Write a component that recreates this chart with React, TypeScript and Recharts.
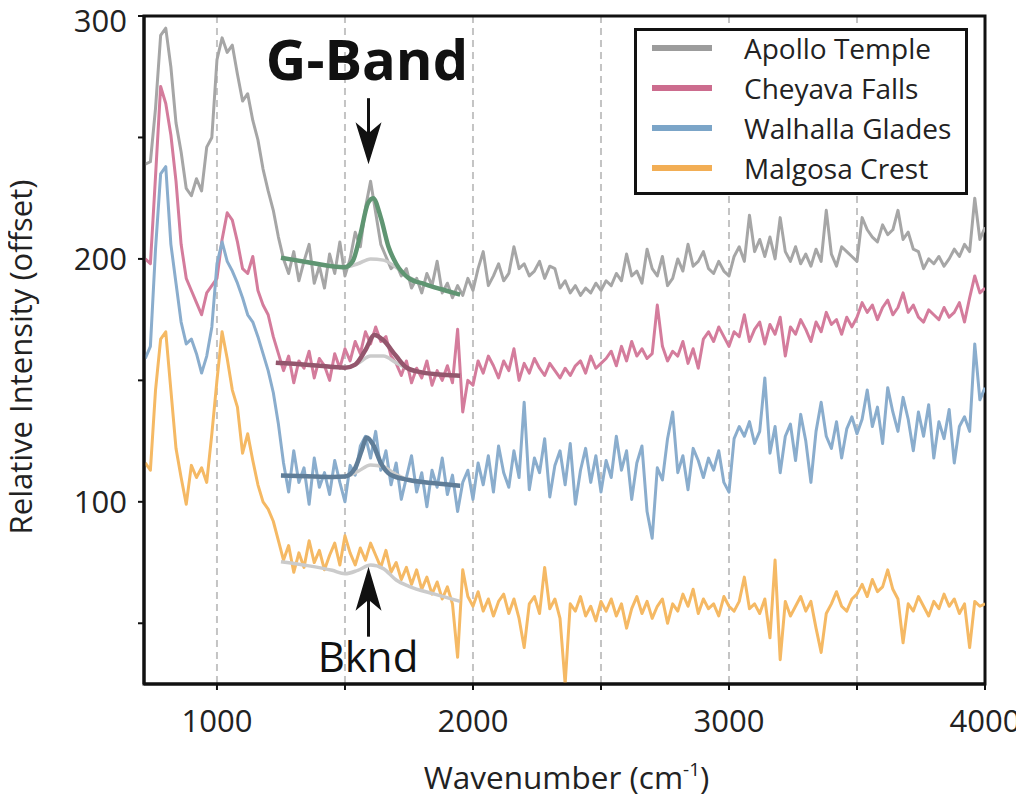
import React from 'react';
import {
  LineChart,
  Line,
  XAxis,
  YAxis,
  CartesianGrid,
  ReferenceArea,
  ReferenceDot,
  Legend,
} from 'recharts';

const FONT = '"Open Sans", "Noto Sans", sans-serif';

// ---------- data ----------
const wavenumbers = [
  720, 740, 760, 780, 800, 820, 840, 860, 880, 900,
  920, 940, 960, 980, 1000, 1020, 1040, 1060, 1080, 1100,
  1120, 1140, 1160, 1180, 1200, 1220, 1240, 1260, 1280, 1300,
  1320, 1340, 1360, 1380, 1400, 1420, 1440, 1460, 1480, 1500,
  1520, 1540, 1560, 1580, 1600, 1620, 1640, 1660, 1680, 1700,
  1720, 1740, 1760, 1780, 1800, 1820, 1840, 1860, 1880, 1900,
  1920, 1940, 1960, 1980, 2000, 2020, 2040, 2060, 2080, 2100,
  2120, 2140, 2160, 2180, 2200, 2220, 2240, 2260, 2280, 2300,
  2320, 2340, 2360, 2380, 2400, 2420, 2440, 2460, 2480, 2500,
  2520, 2540, 2560, 2580, 2600, 2620, 2640, 2660, 2680, 2700,
  2720, 2740, 2760, 2780, 2800, 2820, 2840, 2860, 2880, 2900,
  2920, 2940, 2960, 2980, 3000, 3020, 3040, 3060, 3080, 3100,
  3120, 3140, 3160, 3180, 3200, 3220, 3240, 3260, 3280, 3300,
  3320, 3340, 3360, 3380, 3400, 3420, 3440, 3460, 3480, 3500,
  3520, 3540, 3560, 3580, 3600, 3620, 3640, 3660, 3680, 3700,
  3720, 3740, 3760, 3780, 3800, 3820, 3840, 3860, 3880, 3900,
  3920, 3940, 3960, 3980, 4000,
];

const apolloTemple = [
  239, 240, 262, 292, 295, 279, 256, 244, 229, 226,
  233, 228, 246, 250, 282, 291, 285, 288, 276, 265,
  268, 257, 249, 237, 228, 220, 209, 200, 194, 203,
  191, 199, 206, 190, 197, 188, 202, 194, 207, 193,
  200, 211, 205, 221, 232, 219, 206, 201, 196, 198,
  193, 196, 188, 192, 186, 194, 189, 199, 186, 190,
  184, 189, 185, 192, 187, 196, 203, 189, 193, 198,
  191, 194, 205, 196, 198, 193, 195, 199, 192, 197,
  196, 188, 191, 186, 189, 185, 188, 186, 190, 187,
  191, 189, 194, 191, 202, 193, 195, 190, 204, 196,
  193, 201, 189, 192, 200, 195, 206, 197, 199, 203,
  196, 194, 199, 195, 193, 201, 205, 199, 218, 203,
  208, 201, 209, 200, 217, 203, 199, 205, 198, 202,
  197, 204, 199, 220, 202, 197, 205, 203, 201, 199,
  217, 212, 209, 207, 214, 210, 212, 220, 208, 211,
  204, 203, 196, 200, 198, 201, 197, 200, 204, 201,
  206, 203, 225, 208, 213,
];

const cheyavaFalls = [
  200, 198, 234, 271, 264, 251, 232, 206, 192, 187,
  182, 177, 186, 189, 192, 208, 219, 216, 207, 196,
  194, 201, 187, 181, 177, 168, 161, 154, 160, 149,
  158, 155, 162, 151, 159, 156, 150, 161, 155, 163,
  158, 166, 161, 170, 165, 172, 166, 168, 160, 157,
  152, 158, 149, 155, 151, 158, 148, 154, 150, 156,
  149, 171, 137, 150, 148, 158, 153, 160, 156, 151,
  158, 154, 163, 150, 157, 153, 159, 155, 152, 157,
  154, 151, 155, 152, 156, 158, 153, 160, 155, 157,
  159, 162, 156, 164, 158, 166, 160, 163, 159, 161,
  181, 164, 158, 162, 160, 166, 157, 163, 155, 167,
  170, 166, 172, 168, 164, 170, 168, 177, 166, 171,
  174, 165, 173, 169, 176, 160, 172, 169, 175, 171,
  166, 174, 170, 178, 173, 175, 169, 176, 172, 176,
  182, 178, 181, 175, 180, 183, 177, 180, 186, 178,
  181, 176, 174, 179, 177, 175, 180, 176, 178, 182,
  174, 184, 193, 186, 188,
];

const walhallaGlades = [
  159, 164, 204, 235, 238, 206, 190, 174, 165, 167,
  161, 153, 160, 172, 198, 207, 199, 195, 190, 184,
  177, 174, 168, 161, 154, 145, 132, 116, 104, 121,
  108, 114, 99, 118, 106, 112, 103, 117, 108, 100,
  115, 111, 123, 127, 118, 129, 113, 121, 107, 116,
  101, 110, 119, 104, 112, 98, 113, 106, 118, 103,
  111, 96, 108, 113, 101, 116, 107, 119, 104, 123,
  112, 106, 121, 110, 141, 105, 118, 112, 126, 102,
  115, 121, 107, 124, 99, 113, 122, 108, 119, 104,
  117, 110, 127, 113, 121, 101, 116, 123, 96, 85,
  114, 109, 126, 137, 112, 119, 105, 122, 117, 110,
  118, 113, 121, 108, 104, 126, 131, 127, 133, 124,
  129, 151, 120, 131, 112, 127, 132, 117, 136, 125,
  108, 129, 141, 127, 122, 133, 118, 130, 135, 128,
  134, 146, 131, 139, 124, 147, 137, 129, 143, 134,
  121, 137, 127, 140, 118, 133, 126, 138, 116, 131,
  135, 129, 165, 142, 147,
];

const malgosaCrest = [
  116, 113, 146, 167, 170, 146, 122, 110, 99, 115,
  110, 114, 108, 128, 150, 170, 159, 146, 139, 120,
  128, 117, 107, 100, 97, 92, 84, 76, 82, 71,
  79, 73, 84, 75, 80, 72, 78, 83, 74, 86,
  79, 74, 81, 76, 83, 78, 73, 80, 71, 75,
  68, 73, 66, 72, 64, 69, 62, 67, 60, 65,
  58, 36, 72, 61, 57, 63, 55, 60, 53, 59,
  62, 54, 60, 52, 40, 58, 61, 54, 73, 56,
  60, 52, 25, 58, 55, 61, 53, 57, 51, 59,
  55, 60, 53, 58, 48, 56, 61, 54, 59, 52,
  57, 60, 50, 58, 55, 62, 57, 64, 54, 60,
  56, 58, 53, 61, 57, 55, 59, 69, 56, 58,
  54, 60, 44, 76, 35, 59, 53, 57, 61, 55,
  59, 48, 38, 54, 58, 63, 57, 55, 60, 62,
  66, 61, 68, 63, 65, 72, 64, 60, 42, 58,
  55, 61, 57, 53, 59, 56, 62, 57, 60, 54,
  58, 40, 59, 57, 58,
];

// G-band fits and background curves
const apolloFitX = [1250, 1300, 1350, 1400, 1450, 1500, 1530, 1560, 1590, 1610, 1640, 1670, 1700, 1750, 1800, 1850, 1900, 1950];
const apolloFitY = [200.5, 199.6, 198.7, 197.8, 197, 196.6, 199, 210, 223, 225, 217, 205, 198, 192, 190, 188.3, 186.8, 185.3];
const apolloBkgX = [1250, 1350, 1450, 1500, 1550, 1600, 1650, 1700, 1750, 1800, 1850, 1900, 1950];
const apolloBkgY = [200.5, 198.7, 197, 196.6, 198, 200, 199.5, 196.5, 192.5, 190, 188.3, 186.8, 185.3];

const cheyavaFitX = [1230, 1300, 1400, 1500, 1540, 1580, 1615, 1650, 1700, 1740, 1800, 1900, 1950];
const cheyavaFitY = [157.3, 156.8, 156, 155.2, 156.5, 162.5, 168.7, 166.5, 160, 155.3, 153.3, 152.2, 151.9];
const cheyavaBkgX = [1230, 1400, 1500, 1550, 1600, 1650, 1700, 1750, 1800, 1900, 1950];
const cheyavaBkgY = [157.3, 156, 155.2, 157, 160, 160, 157.2, 154.6, 153.3, 152.2, 151.9];

const walhallaFitX = [1250, 1350, 1450, 1500, 1540, 1565, 1585, 1610, 1640, 1680, 1750, 1850, 1950];
const walhallaFitY = [110.8, 110.5, 110.2, 110.4, 114, 121, 126.5, 123.5, 116, 111, 109, 107.6, 106.6];
const walhallaBkgX = [1250, 1450, 1500, 1550, 1600, 1650, 1700, 1750, 1850, 1950];
const walhallaBkgY = [110.8, 110.2, 110.4, 112.5, 115.2, 114.5, 111.2, 109, 107.6, 106.6];

const malgosaBkgX = [1250, 1350, 1450, 1500, 1550, 1600, 1650, 1700, 1750, 1850, 1950];
const malgosaBkgY = [75.3, 73.8, 71.8, 70.4, 71.8, 74, 72.5, 67.8, 65.2, 62, 59];

const seriesKeys = ['apollo', 'cheyava', 'walhalla', 'malgosa'];
const seriesNames = ['Apollo Temple', 'Cheyava Falls', 'Walhalla Glades', 'Malgosa Crest'];
const seriesColors = ['#a6a6a6', '#d47c9c', '#8aadcd', '#f5b964'];
const legendColors = ['#9c9c9c', '#cc6c8e', '#7ba5c8', '#f2ae55'];

const xTicks = [1000, 1500, 2000, 2500, 3000, 3500, 4000];
const yTicks = [50, 100, 150, 200, 250, 300];

// ---------- build tables ----------
const spectra = wavenumbers.map((wn, i) => ({
  wn,
  apollo: apolloTemple[i],
  cheyava: cheyavaFalls[i],
  walhalla: walhallaGlades[i],
  malgosa: malgosaCrest[i],
}));

const toPoints = (xs: number[], ys: number[]) => xs.map((wn, i) => ({ wn, y: ys[i] }));

const fits = [
  { bkg: toPoints(apolloBkgX, apolloBkgY), fit: toPoints(apolloFitX, apolloFitY), color: '#5f9572' },
  { bkg: toPoints(cheyavaBkgX, cheyavaBkgY), fit: toPoints(cheyavaFitX, cheyavaFitY), color: '#94566d' },
  { bkg: toPoints(walhallaBkgX, walhallaBkgY), fit: toPoints(walhallaFitX, walhallaFitY), color: '#5f7d98' },
  { bkg: toPoints(malgosaBkgX, malgosaBkgY), fit: null, color: '' },
];

// ---------- render helpers ----------
const XTick = (props: any) => {
  const { x, y, payload } = props;
  if (payload.value % 1000 !== 0) return <g />;
  return (
    <text x={x} y={y + 40} textAnchor="middle" fontFamily={FONT} fontSize={31} fill="#222">
      {payload.value}
    </text>
  );
};

const YTick = (props: any) => {
  const { x, y, payload } = props;
  if (payload.value % 100 !== 0) return <g />;
  const ty = Math.max(y, 21);
  return (
    <text x={x - 9} y={ty} dy="0.36em" textAnchor="end" fontFamily={FONT} fontSize={31} fill="#222">
      {payload.value}
    </text>
  );
};

const DownArrow = (props: any) => {
  const { cx, cy } = props;
  return (
    <g>
      <line x1={cx} y1={cy - 66} x2={cx} y2={cy - 20} stroke="#111" strokeWidth={3} />
      <path d={`M${cx},${cy} L${cx - 13},${cy - 42} L${cx},${cy - 31} L${cx + 13},${cy - 42} Z`} fill="#111" />
    </g>
  );
};

const UpArrow = (props: any) => {
  const { cx, cy } = props;
  return (
    <g>
      <line x1={cx} y1={cy + 20} x2={cx} y2={cy + 70} stroke="#111" strokeWidth={3} />
      <path d={`M${cx},${cy} L${cx - 13},${cy + 44} L${cx},${cy + 33} L${cx + 13},${cy + 44} Z`} fill="#111" />
    </g>
  );
};

const makeText = (text: string, size: number, weight: number) => (props: any) => (
  <text x={props.cx} y={props.cy} textAnchor="middle" fontFamily={FONT} fontSize={size} fontWeight={weight} fill="#111">
    {text}
  </text>
);

const LegendBox = () => (
  <div
    style={{
      position: 'relative',
      boxSizing: 'border-box',
      width: 334,
      height: 167,
      border: '3px solid #111',
      background: '#fff',
      fontFamily: FONT,
    }}
  >
    {seriesNames.map((n, i) => (
      <div key={n} style={{ position: 'absolute', left: 0, top: -3 + 40 * i, height: 40 }}>
        <div style={{ position: 'absolute', left: 15, top: 17, width: 60, height: 6, background: legendColors[i] }} />
        <span
          style={{
            position: 'absolute',
            left: 107,
            top: 0,
            lineHeight: '40px',
            fontSize: 28,
            color: '#222',
            whiteSpace: 'nowrap',
          }}
        >
          {n}
        </span>
      </div>
    ))}
  </div>
);

export default function App() {
  return (
    <div style={{ width: 1024, height: 798, margin: '-8px 0 0 -8px', fontFamily: FONT }}>
      <LineChart
        width={1024}
        height={798}
        data={spectra}
        margin={{ top: 16, right: 39, bottom: 54, left: 0 }}
      >
        <CartesianGrid horizontal={false} stroke="#c4c4c4" strokeWidth={2} strokeDasharray="7 5" />
        <XAxis
          dataKey="wn"
          type="number"
          domain={[715, 4000]}
          allowDataOverflow
          ticks={xTicks}
          interval={0}
          height={60}
          axisLine={{ stroke: '#111', strokeWidth: 3 }}
          tickLine={{ stroke: '#111', strokeWidth: 2 }}
          tickSize={6}
          tick={<XTick />}
          label={{
            content: (p: any) => {
              const vb = p.viewBox;
              return (
                <text
                  x={vb.x + vb.width / 2 + 2}
                  y={vb.y + 105}
                  textAnchor="middle"
                  fontFamily={FONT}
                  fontSize={31.5}
                  fill="#222"
                >
                  Wavenumber (cm
                  <tspan fontSize={19} dy={-13}>-1</tspan>
                  <tspan dy={13}>)</tspan>
                </text>
              );
            },
          }}
        />
        <YAxis
          type="number"
          domain={[25, 300]}
          allowDataOverflow
          ticks={yTicks}
          interval={0}
          width={144}
          axisLine={{ stroke: '#111', strokeWidth: 3 }}
          tickLine={{ stroke: '#111', strokeWidth: 2 }}
          tickSize={6}
          tick={<YTick />}
          label={{
            content: (p: any) => {
              const vb = p.viewBox;
              const cx = vb.x + 20;
              const cy = vb.y + vb.height / 2 + 7;
              return (
                <text
                  x={cx}
                  y={cy}
                  transform={`rotate(-90 ${cx} ${cy})`}
                  textAnchor="middle"
                  dominantBaseline="central"
                  fontFamily={FONT}
                  fontSize={31}
                  fill="#222"
                >
                  Relative Intensity (offset)
                </text>
              );
            },
          }}
        />
        {seriesKeys.map((k, i) => (
          <Line
            key={k}
            dataKey={k}
            name={seriesNames[i]}
            type="linear"
            stroke={seriesColors[i]}
            strokeWidth={3}
            strokeLinejoin="round"
            dot={false}
            activeDot={false}
            isAnimationActive={false}
            legendType="none"
          />
        ))}
        {fits.map((f, i) => (
          <Line
            key={`bkg-${i}`}
            data={f.bkg}
            dataKey="y"
            type="monotone"
            stroke="#cbcbcb"
            strokeWidth={3.5}
            dot={false}
            activeDot={false}
            isAnimationActive={false}
            legendType="none"
          />
        ))}
        {fits.map((f, i) =>
          f.fit ? (
            <Line
              key={`fit-${i}`}
              data={f.fit}
              dataKey="y"
              type="monotone"
              stroke={f.color}
              strokeWidth={4.5}
              dot={false}
              activeDot={false}
              isAnimationActive={false}
              legendType="none"
            />
          ) : null
        )}
        <ReferenceArea x1={715} x2={4000} y1={25} y2={300} fill="none" stroke="#111" strokeWidth={3} />
        <ReferenceDot x={1592} y={239} r={0} shape={<DownArrow />} />
        <ReferenceDot x={1592} y={73.3} r={0} shape={<UpArrow />} />
        <ReferenceDot x={1586} y={273.7} r={0} shape={makeText('G-Band', 56, 700)} />
        <ReferenceDot x={1590} y={29.8} r={0} shape={makeText('Bknd', 42, 400)} />
        <Legend
          layout="horizontal"
          verticalAlign="middle"
          align="center"
          content={<LegendBox />}
          wrapperStyle={{ left: 634, top: 28, width: 334, height: 167 }}
        />
      </LineChart>
    </div>
  );
}
